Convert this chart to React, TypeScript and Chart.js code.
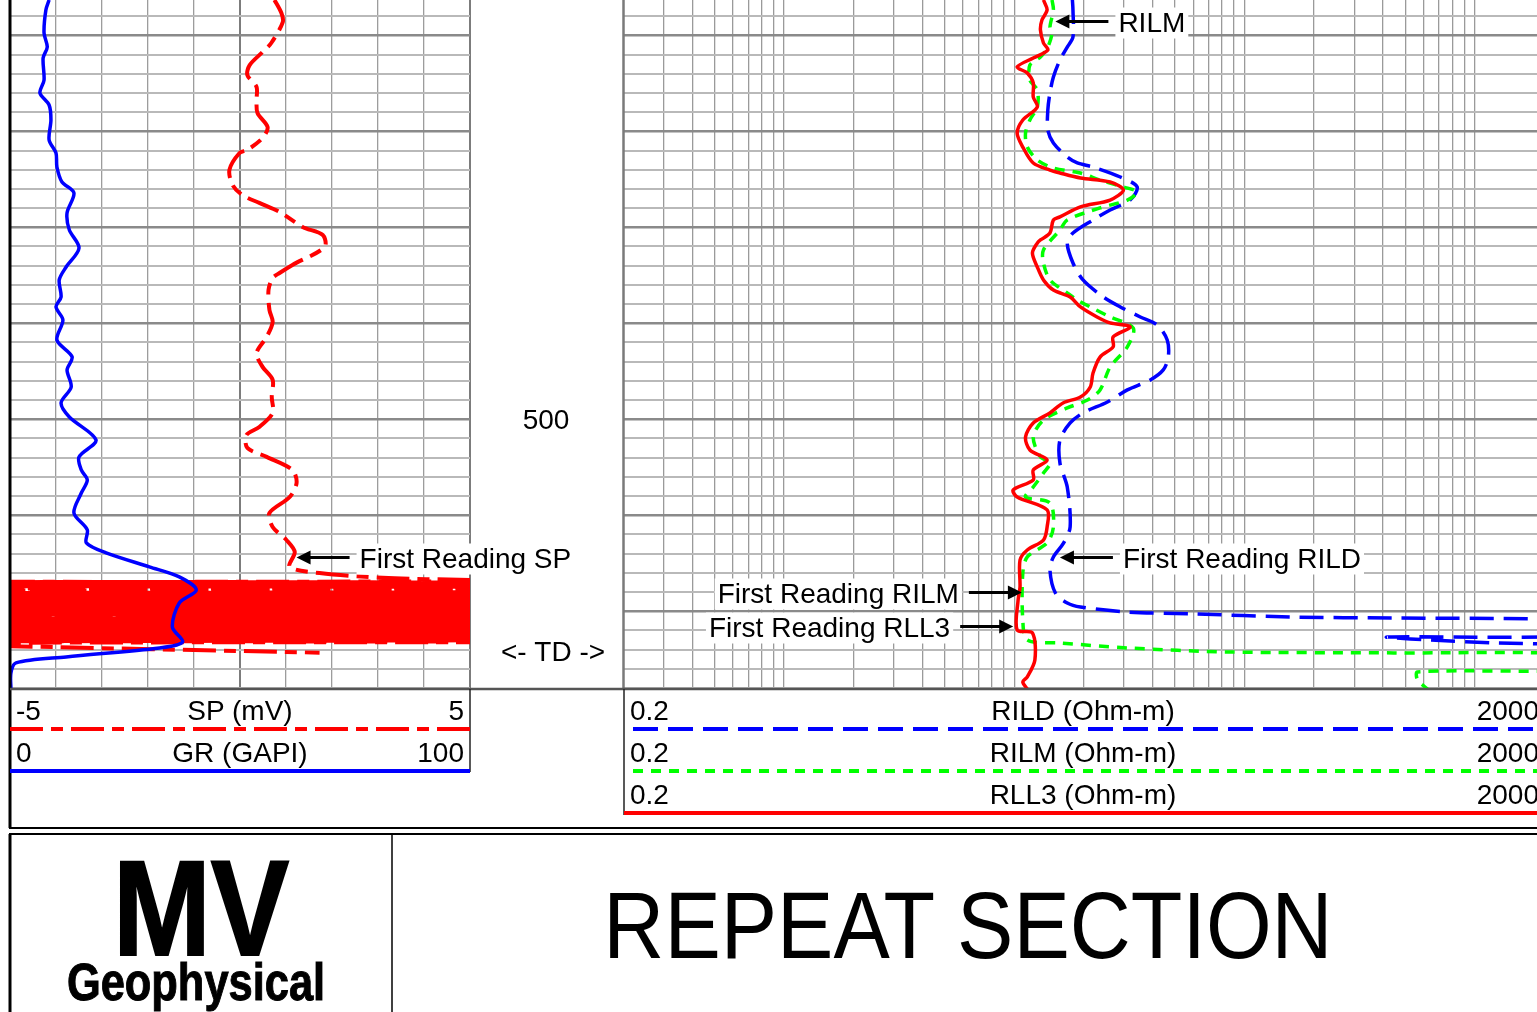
import React, { useEffect, useRef } from 'react';
import { Chart, registerables } from 'chart.js';

Chart.register(...registerables);

// ---------- depth axis ----------
const DEPTH_TOP = 281.6;
const DEPTH_BOTTOM = 640.5;
const DEPTH_LABELS = [500];
const TD_DEPTH = 620.6;

// ---------- track ranges ----------
const GR_RANGE = [0, 100];
const SP_RANGE = [-5, 5];
const RES_RANGE = [0.2, 2000];

// ---------- GR (GAPI) ----------
const GR_DEPTH = [281.6, 286.8, 298.8, 306.1, 311.8, 323.3, 330.0, 336.3, 344.1, 354.5, 361.3, 368.6, 376.4, 382.1, 392.5, 401.4, 410.8, 420.7, 427.4, 436.3, 441.5, 448.3, 458.7, 467.5, 474.3, 483.2, 491.5, 498.8, 510.8, 519.6, 526.4, 531.6, 538.4, 548.8, 557.6, 564.4, 569.6, 576.9, 582.1, 588.9, 595.7, 608.2, 616.0, 619.1, 623.8, 626.9, 632.1, 640.5];
const GR_VALUE = [8.5, 7.8, 7.4, 8.1, 7.2, 7.4, 6.5, 8.5, 8.9, 8.5, 10.0, 10.2, 11.3, 13.9, 12.4, 12.9, 15.0, 12.2, 10.7, 11.1, 10.0, 11.5, 10.2, 13.5, 12.4, 13.3, 11.1, 12.9, 18.7, 15.0, 15.5, 16.8, 15.5, 13.9, 16.8, 16.6, 20.9, 30.3, 36.8, 40.5, 36.8, 35.3, 37.5, 32.5, 12.2, 1.3, 0.2, 0.2];

// ---------- SP (mV) ----------
const SP_DEPTH = [281.6, 288.4, 293.1, 304.0, 308.7, 315.5, 320.7, 326.9, 333.7, 340.5, 347.8, 353.5, 359.7, 361.3, 370.1, 378.0, 383.2, 387.3, 392.0, 399.8, 404.0, 410.3, 419.6, 423.8, 426.4, 432.6, 443.1, 449.3, 457.1, 465.5, 472.7, 479.5, 488.4, 496.7, 504.0, 508.2, 514.9, 519.6, 526.4, 533.2, 540.5, 548.8, 556.1, 562.9, 569.1, 576.9, 580.1, 582.6, 583.7];
const SP_VALUE = [0.75, 0.90, 0.93, 0.68, 0.49, 0.21, 0.16, 0.36, 0.36, 0.38, 0.60, 0.49, 0.16, -0.01, -0.23, -0.16, 0.05, 0.42, 0.86, 1.36, 1.80, 1.84, 1.14, 0.86, 0.71, 0.62, 0.64, 0.71, 0.58, 0.36, 0.49, 0.71, 0.69, 0.71, 0.42, 0.14, 0.16, 0.58, 1.14, 1.23, 1.08, 0.64, 0.71, 1.01, 1.19, 1.08, 1.73, 3.10, 5.0];
// SP below first reading (off-scale swings, clipped by the track)
const SP_NOISE_DEPTH = [584.3, 585.0, 585.7, 586.3, 586.9, 587.5, 588.1, 588.7, 589.3, 589.9, 590.5, 591.1, 591.7, 592.3, 592.9, 593.5, 594.1, 594.7, 595.3, 595.9, 596.5, 597.1, 597.7, 598.3, 598.9, 599.5, 600.1, 600.7, 601.3, 601.9, 602.5, 603.1, 603.7, 604.3, 604.9, 605.5, 606.1, 606.7, 607.3, 607.9, 608.5, 609.1, 609.7, 610.3, 610.9, 611.5, 612.1, 612.7, 613.3, 613.9, 614.5, 615.3, 616.0, 616.9, 621.6];
const SP_NOISE_VALUE = [6.6, -6.5, 6.8, -6.7, 6.5, -6.9, 6.6, -6.4, 6.9, -6.6, 6.5, -6.8, 6.7, -6.5, 6.6, -6.9, 6.8, -6.6, 6.5, -6.7, 6.9, -6.5, 6.6, -6.8, 6.7, -6.6, 6.5, -6.9, 6.8, -6.5, 6.6, -6.7, 6.9, -6.6, 6.5, -6.8, 6.7, -6.5, 6.6, -6.9, 6.8, -6.6, 6.5, -6.7, 6.9, -6.5, 6.6, -6.8, 6.7, -6.6, 6.5, -6.8, 6.6, -6.5, 1.73];

// ---------- RLL3 (Ohm-m) ----------
const RLL3_DEPTH = [281.6, 286.8, 292.0, 297.2, 304.0, 307.6, 311.8, 316.5, 319.6, 324.8, 332.1, 337.3, 344.1, 350.9, 358.2, 366.5, 370.2, 371.7, 374.3, 376.4, 380.6, 385.8, 389.4, 394.6, 396.2, 403.0, 406.6, 408.2, 413.4, 420.7, 427.4, 432.7, 436.3, 441.5, 446.7, 449.8, 451.9, 457.1, 462.3, 467.6, 475.9, 483.2, 488.4, 491.5, 496.7, 501.9, 509.2, 516.0, 521.2, 526.4, 531.6, 536.8, 540.5, 547.2, 556.1, 562.9, 568.1, 573.3, 587.4, 594.1, 609.8, 611.3, 625.4, 634.2, 636.8, 640.5];
const RLL3_VALUE = [13.4, 13.9, 13.2, 13.0, 13.4, 14.0, 12.1, 10.3, 11.4, 12.1, 12.1, 12.6, 10.9, 10.3, 10.9, 12.1, 14.3, 15.8, 19.4, 26.1, 29.8, 26.1, 19.4, 15.8, 14.8, 14.3, 13.0, 12.6, 12.0, 12.6, 13.4, 14.8, 17.5, 19.4, 22.9, 26.1, 31.9, 26.9, 26.9, 23.6, 22.0, 21.4, 19.4, 16.3, 14.3, 12.1, 11.2, 11.7, 13.9, 12.1, 12.1, 9.9, 10.3, 13.9, 13.9, 13.4, 11.4, 10.6, 10.6, 10.4, 10.3, 12.0, 12.3, 11.4, 10.9, 11.4];

// ---------- RILM (Ohm-m) ----------
const RILM_DEPTH = [281.6, 286.8, 295.7, 298.8, 306.1, 311.3, 315.5, 323.3, 328.5, 337.3, 344.1, 350.9, 358.2, 364.9, 369.1, 371.7, 375.4, 379.0, 381.6, 385.8, 389.9, 396.2, 401.4, 411.8, 418.6, 427.4, 434.2, 437.9, 441.5, 446.7, 452.5, 462.3, 472.8, 484.7, 490.0, 494.1, 500.4, 509.2, 519.6, 522.8, 528.0, 535.3, 540.5, 543.6, 556.1, 564.4, 571.7, 580.1, 604.6, 615.0, 616.5, 619.1, 621.2, 621.7, 622.8, 630.1, 631.6, 635.8, 640.5];
const RILM_VALUE = [14.6, 14.8, 14.3, 14.6, 14.0, 13.0, 11.7, 11.7, 12.6, 12.6, 11.7, 11.2, 11.4, 12.6, 14.8, 19.4, 23.6, 29.8, 34.2, 31.0, 23.6, 17.0, 15.8, 13.4, 13.4, 14.3, 17.0, 18.8, 21.4, 26.1, 32.9, 31.0, 26.1, 23.6, 20.8, 17.0, 13.4, 12.1, 13.0, 14.3, 13.4, 12.1, 11.2, 14.3, 14.8, 13.9, 11.4, 10.9, 10.9, 11.4, 15.8, 31.0, 84.3, 444, 3000, 3000, 565, 565, 624];

// ---------- RILD (Ohm-m) ----------
const RILD_DEPTH = [281.6, 286.8, 300.9, 306.1, 312.9, 321.7, 330.0, 338.9, 349.3, 356.1, 363.4, 366.5, 368.6, 373.8, 379.0, 385.8, 391.0, 396.2, 403.0, 408.2, 418.6, 427.4, 436.3, 441.5, 446.7, 450.9, 458.7, 467.6, 474.3, 479.5, 484.7, 491.0, 496.7, 501.9, 510.8, 522.8, 535.3, 556.1, 564.4, 571.7, 578.5, 590.5, 595.7, 597.8, 600.4, 601.4, 603.0, 603.5, 604.0, 605.1, 612.4, 613.4, 615.0, 616.5, 617.6, 619.1];
const RILD_VALUE = [17.9, 18.0, 18.0, 17.0, 15.8, 14.8, 14.3, 14.0, 14.0, 14.8, 17.0, 18.8, 22.0, 28.9, 34.2, 31.9, 26.1, 22.0, 18.0, 17.0, 18.0, 19.9, 24.4, 28.9, 35.3, 41.8, 46.2, 46.7, 44.4, 39.0, 31.0, 25.4, 19.9, 17.5, 15.8, 15.8, 17.0, 17.5, 16.4, 14.8, 14.3, 15.1, 17.0, 19.4, 31.0, 60.0, 163, 444, 1878, 3000, 3000, 418, 643, 1208, 3000, 3000];

// ---------- annotations (anchored in data coordinates) ----------
const NOTES_LEFT = [{ text: 'First Reading SP', depth: 571.5, value: 1.23, dir: 'left' }];
const NOTES_RIGHT = [
  { text: 'RILM', depth: 292.4, value: 15.1, dir: 'left' },
  { text: 'First Reading RILD', depth: 571.5, value: 15.8, dir: 'left' },
  { text: 'First Reading RILM', depth: 589.8, value: 10.8, dir: 'right' },
  { text: 'First Reading RLL3', depth: 607.5, value: 9.9, dir: 'right' },
];

const FONT = '"Liberation Sans", Arial, Helvetica, sans-serif';

const depthGrid: number[] = [];
for (let d = Math.ceil(DEPTH_TOP / 10) * 10; d <= DEPTH_BOTTOM; d += 10) depthGrid.push(d);

const resGrid: number[] = [];
for (let e = -1; e <= 3; e++) {
  for (let m = 1; m <= 9; m++) {
    const v = Number((m * Math.pow(10, e)).toPrecision(6));
    if (v >= RES_RANGE[0] && v <= RES_RANGE[1]) resGrid.push(v);
  }
}

function pts(d: number[], v: number[]) {
  return d.map((y, i) => ({ x: v[i], y }));
}

function curve(label: string, data: any[], xAxisID: string, color: string, width: number, dash: number[]) {
  return {
    label, data, xAxisID, yAxisID: 'y', showLine: true,
    borderColor: color, backgroundColor: color, borderWidth: width, borderDash: dash,
    pointRadius: 0, pointHoverRadius: 0, tension: 0.3, clip: 0, fill: false,
    borderCapStyle: 'butt', borderJoinStyle: 'round',
  };
}

function depthScale() {
  return {
    type: 'linear', reverse: true, min: DEPTH_TOP, max: DEPTH_BOTTOM,
    border: { display: false },
    ticks: { display: false },
    afterBuildTicks: (s: any) => { s.ticks = depthGrid.map((value) => ({ value })); },
    grid: {
      drawTicks: false,
      color: (c: any) => (c.tick && c.tick.value % 50 === 0 ? '#8a8a8a' : '#b9b9b9'),
      lineWidth: (c: any) => (c.tick && c.tick.value % 50 === 0 ? 2.5 : 2),
    },
  };
}

function drawNote(ctx: CanvasRenderingContext2D, xs: any, ys: any, n: any) {
  const tip = xs.getPixelForValue(n.value);
  const y = Math.round(ys.getPixelForValue(n.depth)) + 0.5;
  const sgn = n.dir === 'left' ? 1 : -1;
  const tail = tip + sgn * 53;
  ctx.save();
  ctx.font = `28px ${FONT}`;
  const w = ctx.measureText(n.text).width;
  const tx = tail + sgn * 10;
  const left = sgn > 0 ? tx : tx - w;
  ctx.fillStyle = '#fff';
  ctx.fillRect(left - 3, y - 14, w + 6, 31);
  ctx.fillStyle = '#000';
  ctx.textAlign = sgn > 0 ? 'left' : 'right';
  ctx.textBaseline = 'alphabetic';
  ctx.fillText(n.text, tx, y + 10);
  ctx.strokeStyle = '#000';
  ctx.lineWidth = 3;
  ctx.beginPath();
  ctx.moveTo(tail, y);
  ctx.lineTo(tip + sgn * 12, y);
  ctx.stroke();
  ctx.beginPath();
  ctx.moveTo(tip, y);
  ctx.lineTo(tip + sgn * 14, y - 7);
  ctx.lineTo(tip + sgn * 14, y + 7);
  ctx.closePath();
  ctx.fill();
  ctx.restore();
}

const trackAPlugin = {
  id: 'trackA',
  afterDatasetsDraw(chart: any) {
    const { ctx, chartArea: a, scales } = chart;
    ctx.save();
    ctx.fillStyle = '#000';
    ctx.font = `28px ${FONT}`;
    ctx.textAlign = 'center';
    ctx.textBaseline = 'alphabetic';
    DEPTH_LABELS.forEach((d) => ctx.fillText(String(d), a.right + 76, scales.y.getPixelForValue(d) + 10));
    ctx.fillText('<- TD ->', a.right + 83, scales.y.getPixelForValue(TD_DEPTH) + 10);
    ctx.restore();
    NOTES_LEFT.forEach((n) => drawNote(ctx, scales.xsp, scales.y, n));
  },
};

const trackBPlugin = {
  id: 'trackB',
  afterDatasetsDraw(chart: any) {
    const { ctx, scales } = chart;
    NOTES_RIGHT.forEach((n) => drawNote(ctx, scales.x, scales.y, n));
  },
};

export default function App() {
  const aRef = useRef<HTMLCanvasElement>(null);
  const bRef = useRef<HTMLCanvasElement>(null);

  useEffect(() => {
    const common = {
      responsive: false,
      animation: false,
      events: [],
      plugins: { legend: { display: false }, tooltip: { enabled: false } },
    };
    const spMain = SP_DEPTH.length;
    const spAll = SP_DEPTH.length + SP_NOISE_DEPTH.length;
    const spCurve: any = curve('SP', pts(SP_DEPTH.concat(SP_NOISE_DEPTH), SP_VALUE.concat(SP_NOISE_VALUE)), 'xsp', '#ff0000', 4, [33, 8, 12, 8]);
    // the dense off-scale swings below first reading merge into a solid band
    spCurve.segment = {
      borderWidth: (c: any) => (c.p0DataIndex >= spMain + 1 && c.p0DataIndex < spAll - 4 ? 6 : 4),
    };
    const ca = new Chart(aRef.current as HTMLCanvasElement, {
      type: 'scatter',
      data: {
        datasets: [
          curve('GR', pts(GR_DEPTH, GR_VALUE), 'x', '#0000ff', 3.5, []),
          spCurve,
        ] as any,
      },
      options: {
        ...common,
        layout: { padding: { left: 0, right: 154, top: 0, bottom: 0 } },
        scales: {
          x: {
            type: 'linear', min: GR_RANGE[0], max: GR_RANGE[1], position: 'bottom',
            border: { display: false },
            ticks: { display: false, stepSize: 10 },
            grid: {
              drawTicks: false,
              color: (c: any) => (c.tick && (c.tick.value === 50 || c.tick.value === 100) ? '#7c7c7c' : '#9c9c9c'),
              lineWidth: (c: any) => (c.tick && (c.tick.value === 50 || c.tick.value === 100) ? 2 : 1.3),
            },
          },
          xsp: { type: 'linear', axis: 'x', min: SP_RANGE[0], max: SP_RANGE[1], display: false },
          y: depthScale(),
        },
      } as any,
      plugins: [trackAPlugin],
    });
    const cb = new Chart(bRef.current as HTMLCanvasElement, {
      type: 'scatter',
      data: {
        datasets: [
          curve('RLL3', pts(RLL3_DEPTH, RLL3_VALUE), 'x', '#ff0000', 3.5, []),
          curve('RILM', pts(RILM_DEPTH, RILM_VALUE), 'x', '#00ff00', 3.5, [10, 8]),
          curve('RILD', pts(RILD_DEPTH, RILD_VALUE), 'x', '#0000ff', 3.5, [24, 10]),
        ] as any,
      },
      options: {
        ...common,
        layout: { padding: 0 },
        scales: {
          x: {
            type: 'logarithmic', min: RES_RANGE[0], max: RES_RANGE[1], position: 'bottom',
            border: { display: false },
            ticks: { display: false },
            afterBuildTicks: (s: any) => { s.ticks = resGrid.map((value) => ({ value })); },
            grid: { drawTicks: false, color: '#9a9a9a', lineWidth: 1.3 },
          },
          y: depthScale(),
        },
      } as any,
      plugins: [trackBPlugin],
    });
    return () => {
      ca.destroy();
      cb.destroy();
    };
  }, []);

  const t = { fontFamily: FONT, fontSize: 28, fill: '#000' } as any;

  return (
    <div style={{ position: 'fixed', left: 0, top: 0, width: 1537, height: 1012, overflow: 'hidden', background: '#fff' }}>
      <canvas ref={aRef} width={614} height={689} style={{ position: 'absolute', left: 10, top: 0, width: 614, height: 689 }} />
      <canvas ref={bRef} width={921} height={689} style={{ position: 'absolute', left: 623, top: 0, width: 921, height: 689 }} />
      <svg width={1537} height={1012} style={{ position: 'absolute', left: 0, top: 0, pointerEvents: 'none' }}>
        {/* track frame */}
        <line x1={10} y1={0} x2={10} y2={828} stroke="#000" strokeWidth={3} />
        <line x1={623.5} y1={0} x2={623.5} y2={689} stroke="#7a7a7a" strokeWidth={2.5} />
        <line x1={10} y1={689} x2={1537} y2={689} stroke="#555" strokeWidth={2.5} />

        {/* left header */}
        <line x1={470} y1={689} x2={470} y2={772} stroke="#222" strokeWidth={1.5} />
        <text {...t} x={16} y={720}>-5</text>
        <text {...t} x={240} y={720} textAnchor="middle">SP (mV)</text>
        <text {...t} x={464} y={720} textAnchor="end">5</text>
        <line x1={10} y1={729} x2={470} y2={729} stroke="#ff0000" strokeWidth={4} strokeDasharray="33 8 12 8" />
        <text {...t} x={16} y={762}>0</text>
        <text {...t} x={240} y={762} textAnchor="middle">GR (GAPI)</text>
        <text {...t} x={464} y={762} textAnchor="end">100</text>
        <line x1={10} y1={771} x2={470} y2={771} stroke="#0000ff" strokeWidth={4} />

        {/* right header */}
        <line x1={624} y1={689} x2={624} y2={815} stroke="#222" strokeWidth={1.5} />
        <text {...t} x={630} y={720}>0.2</text>
        <text {...t} x={1083} y={720} textAnchor="middle">RILD (Ohm-m)</text>
        <text {...t} x={1539} y={720} textAnchor="end">2000</text>
        <line x1={633} y1={729} x2={1537} y2={729} stroke="#0000ff" strokeWidth={4} strokeDasharray="25 10" />
        <text {...t} x={630} y={762}>0.2</text>
        <text {...t} x={1083} y={762} textAnchor="middle">RILM (Ohm-m)</text>
        <text {...t} x={1539} y={762} textAnchor="end">2000</text>
        <line x1={633} y1={771} x2={1537} y2={771} stroke="#00ff00" strokeWidth={4} strokeDasharray="10 8" />
        <text {...t} x={630} y={804}>0.2</text>
        <text {...t} x={1083} y={804} textAnchor="middle">RLL3 (Ohm-m)</text>
        <text {...t} x={1539} y={804} textAnchor="end">2000</text>
        <line x1={624} y1={813} x2={1537} y2={813} stroke="#ff0000" strokeWidth={4} />

        {/* outer box bottom and title box */}
        <line x1={9} y1={828} x2={1537} y2={828} stroke="#000" strokeWidth={2} />
        <line x1={9} y1={834} x2={1537} y2={834} stroke="#000" strokeWidth={2} />
        <line x1={10} y1={834} x2={10} y2={1012} stroke="#000" strokeWidth={3} />
        <line x1={392} y1={834} x2={392} y2={1012} stroke="#000" strokeWidth={1.5} />
        <text transform="translate(201 955) scale(0.87 1)" textAnchor="middle" fontFamily={FONT} fontWeight="bold" fontSize={135} fill="#000" stroke="#000" strokeWidth={2}>MV</text>
        <text transform="translate(196 1000) scale(0.835 1)" textAnchor="middle" fontFamily={FONT} fontWeight="bold" fontSize={52} fill="#000" stroke="#000" strokeWidth={1}>Geophysical</text>
        <text transform="translate(968 958) scale(1 1.12)" textAnchor="middle" fontFamily={FONT} fontSize={84.5} fill="#000">REPEAT SECTION</text>
      </svg>
    </div>
  );
}
